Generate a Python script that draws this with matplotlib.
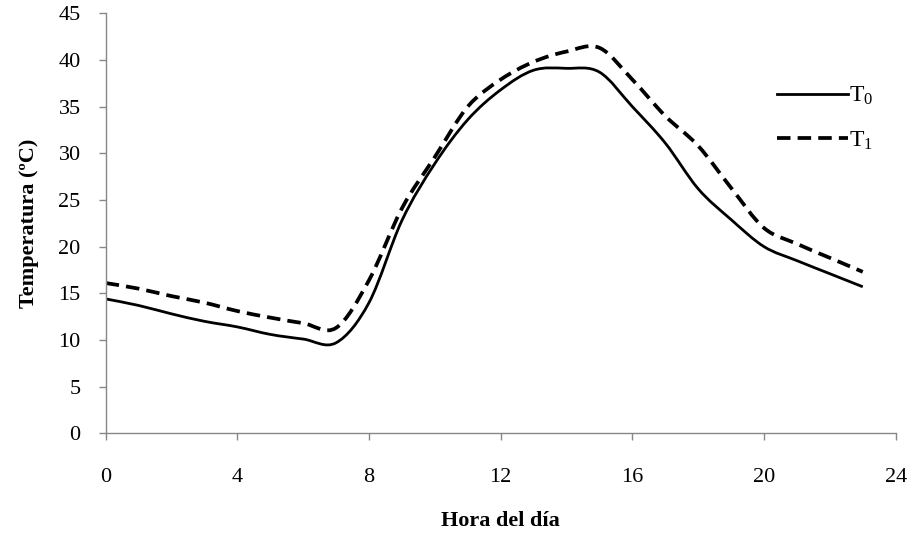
import numpy as np
import matplotlib
matplotlib.use("Agg")
import matplotlib.pyplot as plt
from matplotlib.path import Path
from matplotlib.patches import PathPatch
from matplotlib.lines import Line2D

plt.rcParams['font.family'] = ['Liberation Serif', 'DejaVu Serif']
plt.rcParams['mathtext.fontset'] = 'custom'
plt.rcParams['mathtext.rm'] = 'Liberation Serif'
plt.rcParams['mathtext.it'] = 'Liberation Serif'

hours = list(range(24))
t0 = [14.4, 13.7, 12.8, 12.0, 11.4, 10.6, 10.1, 9.7, 14.0, 22.8, 28.9, 33.6,
      36.8, 38.9, 39.1, 38.7, 35.0, 31.1, 26.2, 22.9, 20.0, 18.5, 17.1, 15.7]
t1 = [16.1, 15.5, 14.7, 14.0, 13.1, 12.4, 11.8, 11.3, 16.4, 24.1, 29.6, 35.0,
      37.9, 39.8, 40.9, 41.3, 37.9, 34.0, 30.8, 26.3, 22.0, 20.3, 18.8, 17.3]
labels = ['T$_0$', 'T$_1$']
xticks = [0, 4, 8, 12, 16, 20, 24]
yticks = list(range(0, 46, 5))


def smooth_path(x, y):
    x = np.asarray(x, float)
    y = np.asarray(y, float)
    pts = np.column_stack([x, y])
    n = len(pts)
    verts = [pts[0]]
    codes = [Path.MOVETO]
    for i in range(n - 1):
        p0 = pts[i - 1] if i > 0 else pts[i]
        p1 = pts[i]
        p2 = pts[i + 1]
        p3 = pts[i + 2] if i + 2 < n else pts[i + 1]
        c1 = p1 + (p2 - p0) / 6.0
        c2 = p2 - (p3 - p1) / 6.0
        verts += [c1, c2, p2]
        codes += [Path.CURVE4] * 3
    return Path(verts, codes)


fig = plt.figure(figsize=(9.07, 5.42), dpi=100)
ax = fig.add_axes([0.1165, 0.2005, 0.8710, 0.775])

styles = [dict(linestyle='-', linewidth=2.0),
          dict(linestyle=(0, (3.6, 1.9)), linewidth=2.7)]
handles = []
for series, st, lab in zip([t0, t1], styles, labels):
    patch = PathPatch(smooth_path(hours, series), fill=False, edgecolor='black',
                      capstyle='butt', **st)
    ax.add_patch(patch)
    handles.append(Line2D([], [], color='black', **st, label=lab))

ax.set_xlim(0, 24)
ax.set_ylim(0, 45)
ax.set_xticks(xticks)
ax.set_yticks(yticks)
for s in ['top', 'right']:
    ax.spines[s].set_visible(False)
for s in ['left', 'bottom']:
    ax.spines[s].set_color('#878787')
    ax.spines[s].set_linewidth(1.0)
ax.tick_params(axis='both', direction='out', length=5, width=1.0,
               color='#878787', labelsize=16, labelcolor='black')
ax.tick_params(axis='y', pad=13)
ax.tick_params(axis='x', pad=20)

ax.set_xlabel('Hora del día', fontsize=16, fontweight='bold', labelpad=17)
ax.set_ylabel('Temperatura (ºC)', fontsize=16, fontweight='bold', labelpad=14)

leg = ax.legend(handles=handles, loc='upper right', bbox_to_anchor=(0.999, 0.88),
                frameon=False, fontsize=17, handlelength=3.0, handletextpad=0.05,
                labelspacing=0.95)

fig.savefig('out.png', dpi=100)
